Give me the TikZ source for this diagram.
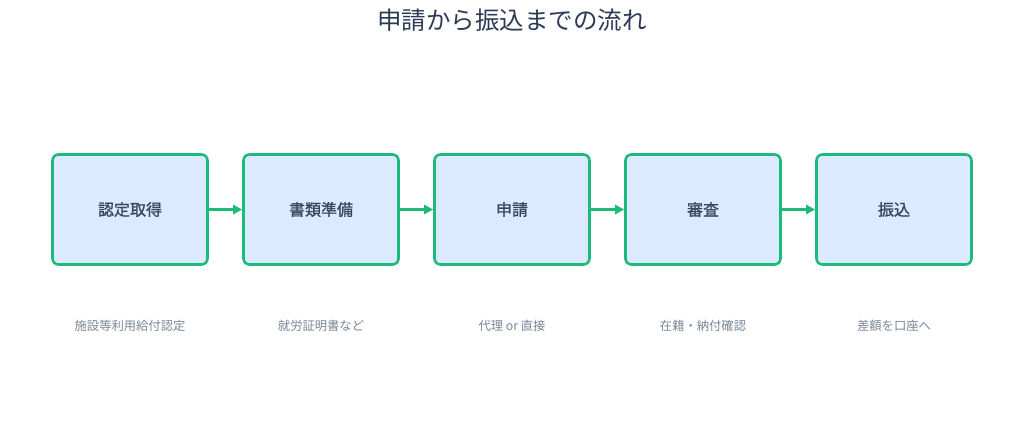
\documentclass[tikz,border=0pt]{standalone}
\usepackage{fontspec}
\setmainfont{Noto Sans CJK JP}
\newfontfamily\semibfont[FakeBold=1.2]{Noto Sans CJK JP}
\usetikzlibrary{arrows.meta}
\definecolor{boxfill}{HTML}{DBEAFE}
\definecolor{boxline}{HTML}{1DBA7C}
\definecolor{titlecol}{HTML}{2E3A55}
\definecolor{labelcol}{HTML}{3A4560}
\definecolor{capcol}{HTML}{7A8699}
\begin{document}
\begin{tikzpicture}[x=1pt,y=-1pt,
  stepbox/.style={draw=boxline,fill=boxfill,line width=2.6pt,rounded corners=6pt,
    minimum width=155pt,minimum height=110pt,inner sep=0pt,
    font=\semibfont\fontsize{16}{19}\selectfont,text=labelcol},
  captext/.style={font=\fontsize{12.3}{15}\selectfont,text=capcol},
  conn/.style={draw=boxline,line width=2.6pt,-{Triangle[length=9pt,width=9pt]}}]
\useasboundingbox[fill=white] (0,0) rectangle (1024,431);
\node[font=\fontsize{24.5}{29}\selectfont,text=titlecol] (title) at (512,20) {申請から振込までの流れ};
\foreach \i/\x/\t/\c in {1/130/認定取得/施設等利用給付認定,2/321/書類準備/就労証明書など,3/512/申請/代理 or 直接,4/703/審査/在籍・納付確認,5/894/振込/差額を口座へ}{
  \node[stepbox] (b\i) at (\x,209.5) {\t};
  \node[captext] (c\i) at (\x,326) {\c};
}
\foreach \a/\b in {1/2,2/3,3/4,4/5}{
  \draw[conn] (b\a.east) -- (b\b.west);
}
\end{tikzpicture}
\end{document}
